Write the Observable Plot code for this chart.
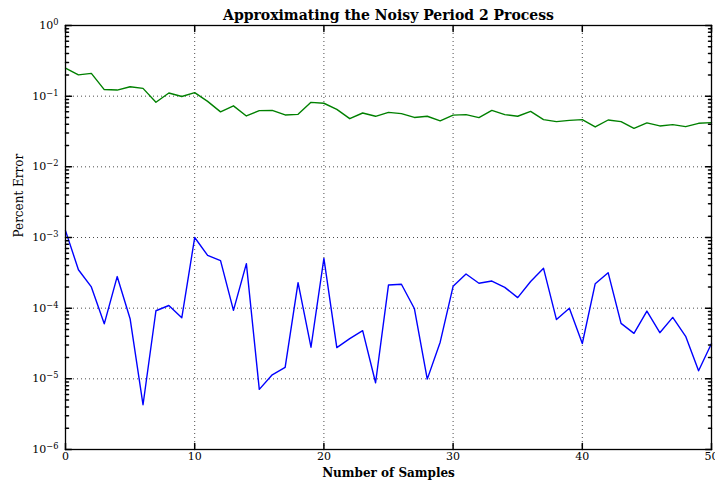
<!DOCTYPE html>
<html>
<head>
<meta charset="utf-8">
<script src="https://cdn.jsdelivr.net/npm/d3@7"></script>
<script src="https://cdn.jsdelivr.net/npm/@observablehq/plot@0.6"></script>
<style>
  html, body { margin: 0; padding: 0; background: #fff; }
  #chart svg { display: block; }
</style>
</head>
<body>
<div id="chart"></div>
<script>
// Number of samples used for each approximation
const samples = d3.range(0, 51);

// Percent error of the coarse approximation (green)
const coarseError = [
  0.25, 0.20, 0.21, 0.124, 0.122, 0.136, 0.129, 0.082, 0.111, 0.099, 0.112,
  0.0845, 0.060, 0.073, 0.0525, 0.0624, 0.063, 0.0542, 0.0553, 0.0818, 0.0794,
  0.065, 0.048, 0.0578, 0.0519, 0.059, 0.0566, 0.050, 0.052, 0.0447, 0.054,
  0.0548, 0.0497, 0.063, 0.0548, 0.052, 0.061, 0.0466, 0.0436, 0.0455, 0.0466,
  0.0367, 0.046, 0.0436, 0.0351, 0.0418, 0.0379, 0.0396, 0.037, 0.0413, 0.0422
];

// Percent error of the refined approximation (blue)
const fineError = [
  1.25e-3, 3.5e-4, 2.0e-4, 6.0e-5, 2.8e-4, 7.1e-5, 4.3e-6, 9.2e-5, 1.09e-4, 7.3e-5, 1.0e-3,
  5.6e-4, 4.7e-4, 9.3e-5, 4.26e-4, 7.1e-6, 1.14e-5, 1.45e-5, 2.3e-4, 2.8e-5, 5.07e-4,
  2.77e-5, 3.7e-5, 4.8e-5, 8.8e-6, 2.13e-4, 2.18e-4, 9.9e-5, 9.9e-6, 3.3e-5, 2.04e-4,
  3.04e-4, 2.25e-4, 2.42e-4, 1.97e-4, 1.41e-4, 2.38e-4, 3.66e-4, 6.9e-5, 1.0e-4, 3.16e-5,
  2.22e-4, 3.18e-4, 6.1e-5, 4.4e-5, 9.1e-5, 4.5e-5, 7.4e-5, 4.0e-5, 1.30e-5, 3.16e-5
];

// Axis ticks
const xTicks = [0, 10, 20, 30, 40, 50];
const yTicks = [1e0, 1e-1, 1e-2, 1e-3, 1e-4, 1e-5, 1e-6];
const yTickExponents = ["0", "\u22121", "\u22122", "\u22123", "\u22124", "\u22125", "\u22126"];

const titleText = "Approximating the Noisy Period 2 Process";
const xLabelText = "Number of Samples";
const yLabelText = "Percent Error";

const coarseRows = samples.map((n, i) => ({n, err: coarseError[i]}));
const fineRows = samples.map((n, i) => ({n, err: fineError[i]}));

// minor log ticks (2..9 x 10^k) between the decades
const yMinor = [];
for (let k = -6; k < 0; k++) for (let m = 2; m <= 9; m++) yMinor.push(m * Math.pow(10, k));

const xDomain = [xTicks[0], xTicks[xTicks.length - 1]];
const yDomain = [yTicks[yTicks.length - 1], yTicks[0]];

// inward tick shape for vector marks
const tickShape = {draw(context, l) { context.moveTo(0, 0); context.lineTo(0, -l); }};
const serif = "'DejaVu Serif', 'Liberation Serif', serif";

const chart = Plot.plot({
  width: 715,
  height: 487,
  marginLeft: 65,
  marginRight: 4,
  marginTop: 25,
  marginBottom: 38,
  style: {fontFamily: serif, fontSize: "12px", color: "#000", background: "#fff"},
  x: {domain: xDomain},
  y: {type: "log", domain: yDomain},
  marks: [
    Plot.gridX(xTicks.slice(1, -1), {stroke: "#000", strokeOpacity: 0.7, strokeDasharray: "1,3", strokeWidth: 1}),
    Plot.gridY(yTicks.slice(1, -1), {stroke: "#000", strokeOpacity: 0.7, strokeDasharray: "1,3", strokeWidth: 1}),
    Plot.line(coarseRows, {x: "n", y: "err", stroke: "#008000", strokeWidth: 1.4}),
    Plot.line(fineRows, {x: "n", y: "err", stroke: "#0000ff", strokeWidth: 1.4}),
    // inward major / minor ticks on all four sides
    Plot.vector(yTicks, {x: xDomain[0], y: d => d, rotate: 90, length: 6, anchor: "start", shape: tickShape, stroke: "#000"}),
    Plot.vector(yTicks, {x: xDomain[1], y: d => d, rotate: -90, length: 6, anchor: "start", shape: tickShape, stroke: "#000"}),
    Plot.vector(yMinor, {x: xDomain[0], y: d => d, rotate: 90, length: 3, anchor: "start", shape: tickShape, stroke: "#000"}),
    Plot.vector(yMinor, {x: xDomain[1], y: d => d, rotate: -90, length: 3, anchor: "start", shape: tickShape, stroke: "#000"}),
    Plot.vector(xTicks, {x: d => d, y: yDomain[0], rotate: 0, length: 6, anchor: "start", shape: tickShape, stroke: "#000"}),
    Plot.vector(xTicks, {x: d => d, y: yDomain[1], rotate: 180, length: 6, anchor: "start", shape: tickShape, stroke: "#000"}),
    Plot.frame({stroke: "#000", strokeWidth: 1.3}),
    Plot.axisX(xTicks, {tickSize: 0, tickPadding: 3, label: null, fontSize: 11}),
    Plot.axisY(yTicks, {tickSize: 0, tickPadding: 7, label: null, fontSize: 11,
      tickFormat: d => "10|" + yTickExponents[yTicks.indexOf(d)]}),
    Plot.text([titleText], {text: d => d, frameAnchor: "top", lineAnchor: "bottom", dy: -6, fontSize: 14, fontWeight: "bold"}),
    Plot.text([xLabelText], {text: d => d, frameAnchor: "bottom", lineAnchor: "top", dy: 19, fontSize: 12, fontWeight: "bold"}),
    Plot.text([yLabelText], {text: d => d, frameAnchor: "left", rotate: -90, lineAnchor: "bottom", dx: -43, fontSize: 12})
  ]
});

// turn "10|−3" tick labels into 10 with a superscript exponent
d3.select(chart).selectAll('g[aria-label="y-axis tick label"] text').each(function() {
  const parts = this.textContent.split("|");
  if (parts.length !== 2) return;
  const t = d3.select(this);
  t.text(null);
  t.append("tspan").text(parts[0]);
  t.append("tspan").attr("dy", "-0.5em").attr("font-size", "75%").text(parts[1]);
});

document.getElementById("chart").appendChild(chart);
</script>
</body>
</html>
